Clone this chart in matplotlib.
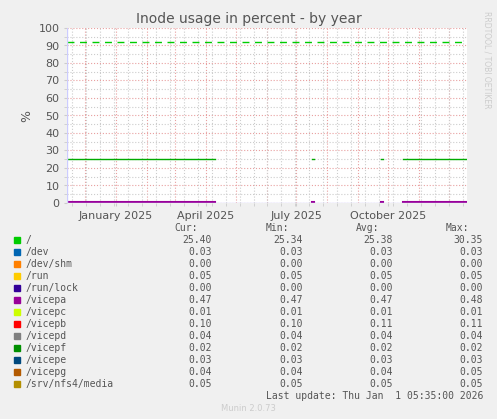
import matplotlib
matplotlib.use('Agg')
import matplotlib.pyplot as plt
import matplotlib.dates as mdates
import numpy as np
from datetime import datetime

# ── Data ──────────────────────────────────────────────────────────────────────
start, end = datetime(2024, 11, 13), datetime(2025, 12, 19)
# "/" segments (root fs) at ~25.4 %
root_segments = [
    (datetime(2024, 11, 13), datetime(2025, 4, 10)),
    (datetime(2025, 7, 17), datetime(2025, 7, 19)),
    (datetime(2025, 9, 24), datetime(2025, 9, 26)),
    (datetime(2025, 10, 16), datetime(2025, 11, 17)),
    (datetime(2025, 11, 18), datetime(2025, 12, 18)),
]
root_value = 25.4
vicepa_value = 0.47
warning_level = 92

labels = ['/', '/dev', '/dev/shm', '/run', '/run/lock', '/vicepa', '/vicepc',
          '/vicepb', '/vicepd', '/vicepf', '/vicepe', '/vicepg', '/srv/nfs4/media']
colors = ['#00cc00', '#0066b3', '#ff8000', '#ffcc00', '#330099', '#990099',
          '#ccff00', '#ff0000', '#808080', '#008f00', '#00487d', '#b35a00', '#b38f00']
cur = ['25.40', '0.03', '0.00', '0.05', '0.00', '0.47', '0.01', '0.10', '0.04', '0.02', '0.03', '0.04', '0.05']
mins = ['25.34', '0.03', '0.00', '0.05', '0.00', '0.47', '0.01', '0.10', '0.04', '0.02', '0.03', '0.04', '0.05']
avgs = ['25.38', '0.03', '0.00', '0.05', '0.00', '0.47', '0.01', '0.11', '0.04', '0.02', '0.03', '0.04', '0.05']
maxs = ['30.35', '0.03', '0.00', '0.05', '0.00', '0.48', '0.01', '0.11', '0.04', '0.02', '0.03', '0.05', '0.05']

W, H = 497, 419
BG = '#f0f0f0'
TXT = '#555555'

fig = plt.figure(figsize=(W / 100, H / 100), dpi=100, facecolor=BG)
ax = fig.add_axes([67 / W, 1 - 203 / H, 400 / W, 175 / H], facecolor='white')

# grid: gray minor (weekly / every 5), red major (monthly / every 10)
ax.xaxis.set_major_locator(mdates.MonthLocator(bymonth=[1, 4, 7, 10]))
ax.xaxis.set_major_formatter(mdates.DateFormatter('%B %Y'))
ax.xaxis.set_minor_locator(mdates.WeekdayLocator(byweekday=mdates.MO, interval=2))
ax.set_yticks(np.arange(0, 101, 10))
ax.set_yticks(np.arange(0, 101, 5), minor=True)
ax.grid(which='minor', color='#cccccc', linestyle=':', linewidth=0.8)
for d in mdates.MonthLocator().tick_values(start, end):
    ax.axvline(d, color='#e8a0a0', linestyle=':', linewidth=0.8, zorder=0.5)
for v in range(0, 101, 10):
    ax.axhline(v, color='#e8a0a0', linestyle=':', linewidth=0.8, zorder=0.5)

for s, e in root_segments:
    ax.plot([s, e], [root_value, root_value], color='#00aa00', lw=1, zorder=3)
    ax.plot([s, e], [vicepa_value, vicepa_value], color=colors[5], lw=1.5, zorder=3)
ax.axhline(warning_level, color='#00cc00', lw=1, linestyle=(0, (5, 4)), zorder=3)

ax.set_xlim(start, end)
ax.set_ylim(0, 100)
for sp in ax.spines.values():
    sp.set_visible(False)
ax.tick_params(which='both', length=2, colors='#cccccc', labelcolor=TXT, labelsize=8)
ax.axhline(0, color='#ccccff', lw=1, zorder=4)
ax.axvline(start, color='#ccccff', lw=1, zorder=4)

ax.set_ylabel('%', color=TXT, fontsize=9)
fig.text(0.5, 1 - 19 / H, 'Inode usage in percent - by year', ha='center', va='center',
         color=TXT, fontsize=10)
fig.text(487 / W, 1 - 60 / H, 'RRDTOOL / TOBI OETIKER', rotation=270, ha='center',
         va='center', color='#cccccc', fontsize=5.5)

# ── Legend table ──────────────────────────────────────────────────────────────
mono = dict(family='DejaVu Sans Mono', fontsize=7, color=TXT, va='center')
cols_x = [212, 303, 393, 483]
for x, h in zip(cols_x, ['Cur:', 'Min:', 'Avg:', 'Max:']):
    fig.text((x - 14) / W, 1 - 228 / H, h, ha='right', **mono)
for i, lab in enumerate(labels):
    y = 1 - (239.7 + 12 * i) / H
    fig.patches.append(plt.Rectangle((14 / W, y - 3 / H), 6 / W, 6 / H,
                                     transform=fig.transFigure, color=colors[i]))
    fig.text(26 / W, y, lab, ha='left', **mono)
    for x, v in zip(cols_x, [cur[i], mins[i], avgs[i], maxs[i]]):
        fig.text(x / W, y, v, ha='right', **mono)
fig.text(483 / W, 1 - 395.5 / H, 'Last update: Thu Jan  1 05:35:00 2026', ha='right', **mono)
fig.text(248 / W, 1 - 408 / H, 'Munin 2.0.73', ha='center', va='center',
         color='#cccccc', fontsize=6)

fig.savefig('out.png', dpi=100, facecolor=BG)
